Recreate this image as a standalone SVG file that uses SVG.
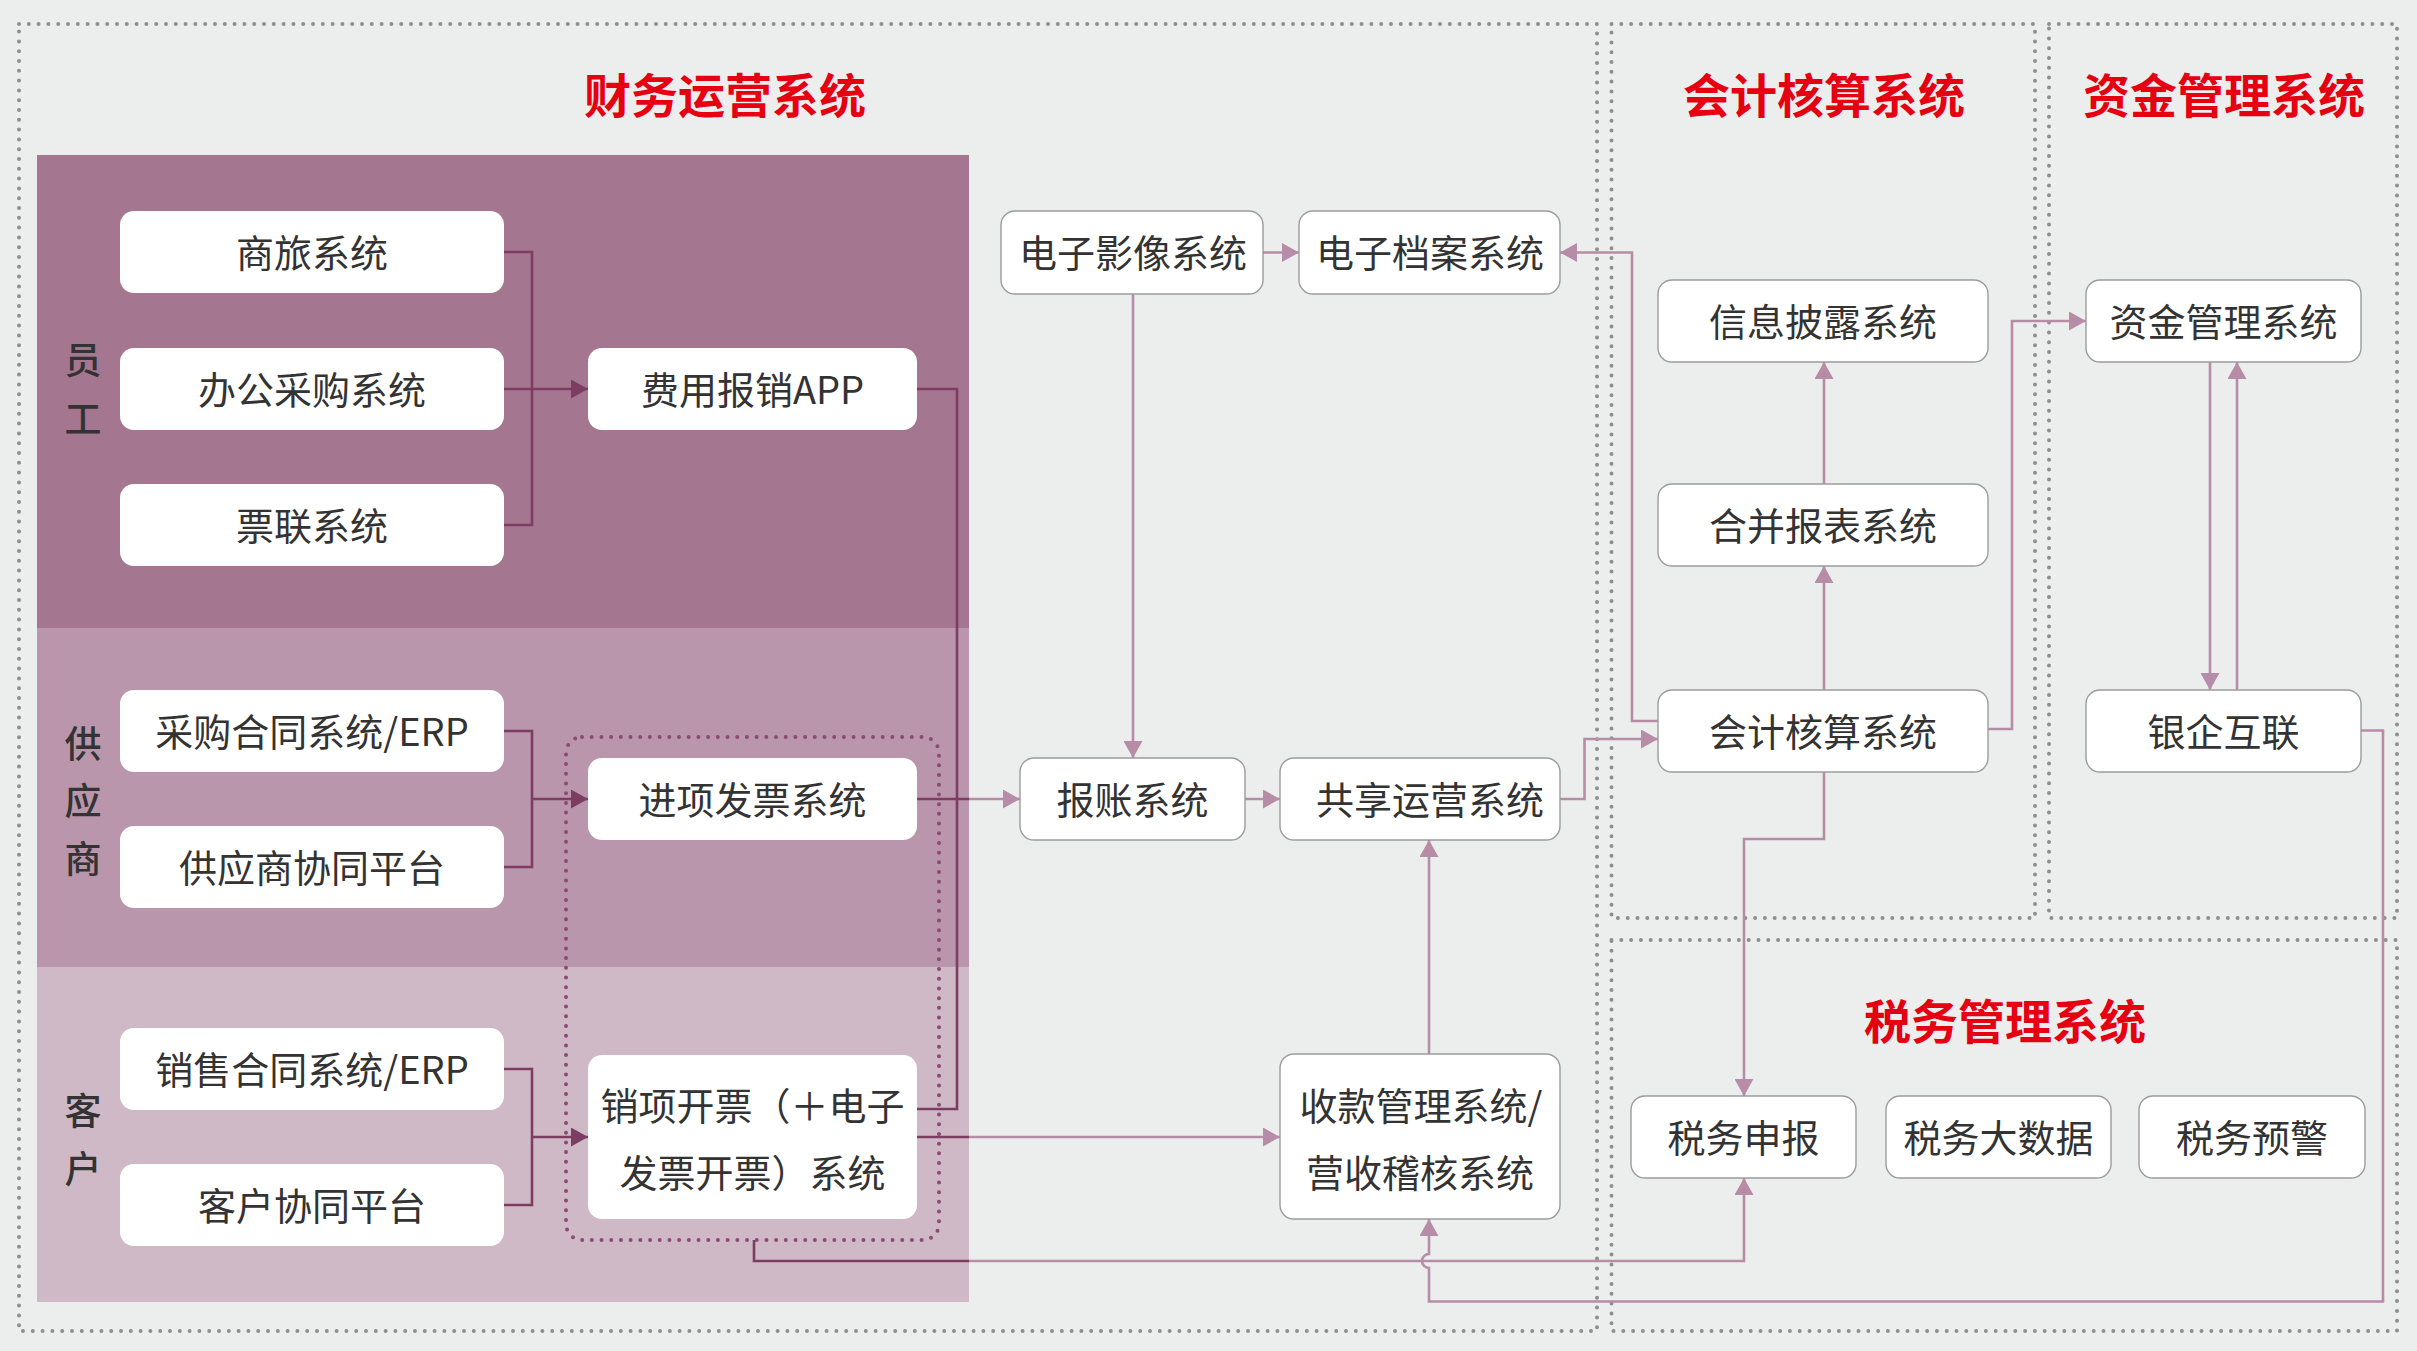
<svg xmlns="http://www.w3.org/2000/svg" width="2417" height="1351" viewBox="0 0 2417 1351">
<style>
text{font-family:"Noto Sans CJK SC","Noto Sans",sans-serif;}
.t{font-size:38px;fill:#333;text-anchor:middle;dominant-baseline:central;}
.lab{font-size:37px;fill:#333;text-anchor:middle;dominant-baseline:central;font-weight:500;}
.title{font-size:47px;fill:#E50012;font-weight:700;text-anchor:middle;dominant-baseline:central;}
.box{fill:#fff;stroke:#9c9c9c;stroke-width:1.4;}
.boxp{fill:#fff;stroke:none;}
.region{fill:none;stroke:#8e8e8e;stroke-width:4;stroke-dasharray:0 9.8;stroke-linecap:round;}
.frame{fill:none;stroke:#8a4a72;stroke-width:4;stroke-dasharray:0 9.7;stroke-linecap:round;}
.dk{fill:none;stroke:#7d3d63;stroke-width:2.6;}
.lt{fill:none;stroke:#b68ca7;stroke-width:2.6;}
</style>
<defs>
<marker id="ad" markerUnits="userSpaceOnUse" markerWidth="18" markerHeight="19" refX="17" refY="9.5" orient="auto" viewBox="0 0 18 19"><path d="M0,0 L17,9.5 L0,19 z" fill="#7d3d63"/></marker>
<marker id="al" markerUnits="userSpaceOnUse" markerWidth="18" markerHeight="19" refX="17" refY="9.5" orient="auto" viewBox="0 0 18 19"><path d="M0,0 L17,9.5 L0,19 z" fill="#b68ca7"/></marker>
</defs>
<rect x="0" y="0" width="2417" height="1351" fill="#eceeee"/>

<g id="regions">
<rect class="region" x="19" y="24" width="1578" height="1307"/>
<rect class="region" x="1611.5" y="24" width="423.5" height="894"/>
<rect class="region" x="2049" y="24" width="348" height="894"/>
<rect class="region" x="1611.5" y="940" width="785.5" height="391"/>
<text class="title" x="725" y="92">财务运营系统</text>
<text class="title" x="1824" y="92">会计核算系统</text>
<text class="title" x="2224" y="92">资金管理系统</text>
<text class="title" x="2005" y="1018">税务管理系统</text>
</g>

<g id="bands">
<rect x="37" y="155" width="932" height="473" fill="#a5768f"/>
<rect x="37" y="628" width="932" height="339" fill="#b996ab"/>
<rect x="37" y="967" width="932" height="335" fill="#d0b9c6"/>
<text class="lab" x="83" y="358">员</text>
<text class="lab" x="83" y="417">工</text>
<text class="lab" x="83" y="742">供</text>
<text class="lab" x="83" y="799">应</text>
<text class="lab" x="83" y="857">商</text>
<text class="lab" x="83" y="1109">客</text>
<text class="lab" x="83" y="1167">户</text>
<rect class="frame" x="566" y="737" width="373" height="503" rx="16"/>
</g>

<g id="connectors">
<path class="dk" d="M504,252 H532 V525 H504"/>
<path class="dk" d="M504,389 H588" marker-end="url(#ad)"/>
<path class="dk" d="M504,731 H532 V867 H504"/>
<path class="dk" d="M532,799 H588" marker-end="url(#ad)"/>
<path class="dk" d="M504,1069 H532 V1205 H504"/>
<path class="dk" d="M532,1137 H588" marker-end="url(#ad)"/>
<path class="dk" d="M917,389 H957 V1109 H917"/>
<path class="dk" d="M917,799 H969"/>
<path class="lt" d="M969,799 H1020" marker-end="url(#al)"/>
<path class="dk" d="M917,1137 H969"/>
<path class="lt" d="M969,1137 H1280" marker-end="url(#al)"/>
<path class="dk" d="M754,1240 V1261 H969"/>
<path class="lt" d="M969,1261 H1744 V1178" marker-end="url(#al)"/>
<path class="lt" d="M1263,252.5 H1299" marker-end="url(#al)"/>
<path class="lt" d="M1133,294 V758" marker-end="url(#al)"/>
<path class="lt" d="M1245,799 H1280" marker-end="url(#al)"/>
<path class="lt" d="M1560,799 H1584.5 V739 H1658" marker-end="url(#al)"/>
<path class="lt" d="M1658,721 H1632 V252.5 H1560" marker-end="url(#al)"/>
<path class="lt" d="M1824,484 V362" marker-end="url(#al)"/>
<path class="lt" d="M1824,690 V566" marker-end="url(#al)"/>
<path class="lt" d="M1988,729 H2012 V321 H2086" marker-end="url(#al)"/>
<path class="lt" d="M2210,362 V690" marker-end="url(#al)"/>
<path class="lt" d="M2237,690 V362" marker-end="url(#al)"/>
<path class="lt" d="M1824,772 V839 H1744 V1096" marker-end="url(#al)"/>
<path class="lt" d="M1429,1054 V840" marker-end="url(#al)"/>
<path class="lt" d="M2361,730.5 H2383 V1301.5 H1429 V1268 A7,7 0 0 1 1429,1254 V1219" marker-end="url(#al)"/>
</g>

<g id="n-shanglv"><rect class="boxp" x="120" y="211" width="384" height="82" rx="14"/><text class="t" x="312" y="250">商旅系统</text></g>
<g id="n-bangong"><rect class="boxp" x="120" y="348" width="384" height="82" rx="14"/><text class="t" x="312" y="387">办公采购系统</text></g>
<g id="n-piaolian"><rect class="boxp" x="120" y="484" width="384" height="82" rx="14"/><text class="t" x="312" y="523">票联系统</text></g>
<g id="n-feiyong"><rect class="boxp" x="588" y="348" width="329" height="82" rx="14"/><text class="t" x="752.5" y="387">费用报销APP</text></g>
<g id="n-caigou"><rect class="boxp" x="120" y="690" width="384" height="82" rx="14"/><text class="t" x="312" y="729">采购合同系统/ERP</text></g>
<g id="n-gongying"><rect class="boxp" x="120" y="826" width="384" height="82" rx="14"/><text class="t" x="312" y="865">供应商协同平台</text></g>
<g id="n-jinxiang"><rect class="boxp" x="588" y="758" width="329" height="82" rx="14"/><text class="t" x="752.5" y="797">进项发票系统</text></g>
<g id="n-xiaoshou"><rect class="boxp" x="120" y="1028" width="384" height="82" rx="14"/><text class="t" x="312" y="1067">销售合同系统/ERP</text></g>
<g id="n-kehu"><rect class="boxp" x="120" y="1164" width="384" height="82" rx="14"/><text class="t" x="312" y="1203">客户协同平台</text></g>
<g id="n-xiaoxiang"><rect class="boxp" x="588" y="1055" width="329" height="164" rx="14"/><text class="t" x="752.5" y="1103">销项开票（＋电子</text><text class="t" x="752.5" y="1170">发票开票）系统</text></g>

<g id="n-yingxiang"><rect class="box" x="1001" y="211" width="262" height="83" rx="14"/><text class="t" x="1133" y="250.5">电子影像系统</text></g>
<g id="n-dangan"><rect class="box" x="1299" y="211" width="261" height="83" rx="14"/><text class="t" x="1430" y="250.5">电子档案系统</text></g>
<g id="n-baozhang"><rect class="box" x="1020" y="758" width="225" height="82" rx="14"/><text class="t" x="1132.5" y="797">报账系统</text></g>
<g id="n-gongxiang"><rect class="box" x="1280" y="758" width="280" height="82" rx="14"/><text class="t" x="1430" y="797">共享运营系统</text></g>
<g id="n-shoukuan"><rect class="box" x="1280" y="1054" width="280" height="165" rx="14"/><text class="t" x="1421" y="1103">收款管理系统/</text><text class="t" x="1420" y="1170">营收稽核系统</text></g>

<g id="n-xinxi"><rect class="box" x="1658" y="280" width="330" height="82" rx="14"/><text class="t" x="1823" y="319">信息披露系统</text></g>
<g id="n-hebing"><rect class="box" x="1658" y="484" width="330" height="82" rx="14"/><text class="t" x="1823" y="523">合并报表系统</text></g>
<g id="n-kuaiji"><rect class="box" x="1658" y="690" width="330" height="82" rx="14"/><text class="t" x="1823" y="729">会计核算系统</text></g>
<g id="n-zijin"><rect class="box" x="2086" y="280" width="275" height="82" rx="14"/><text class="t" x="2223.5" y="319">资金管理系统</text></g>
<g id="n-yinqi"><rect class="box" x="2086" y="690" width="275" height="82" rx="14"/><text class="t" x="2223.5" y="729">银企互联</text></g>

<g id="n-shenbao"><rect class="box" x="1631" y="1096" width="225" height="82" rx="14"/><text class="t" x="1743.5" y="1135">税务申报</text></g>
<g id="n-dashuju"><rect class="box" x="1886" y="1096" width="225" height="82" rx="14"/><text class="t" x="1998.5" y="1135">税务大数据</text></g>
<g id="n-yujing"><rect class="box" x="2139" y="1096" width="226" height="82" rx="14"/><text class="t" x="2252" y="1135">税务预警</text></g>
</svg>
